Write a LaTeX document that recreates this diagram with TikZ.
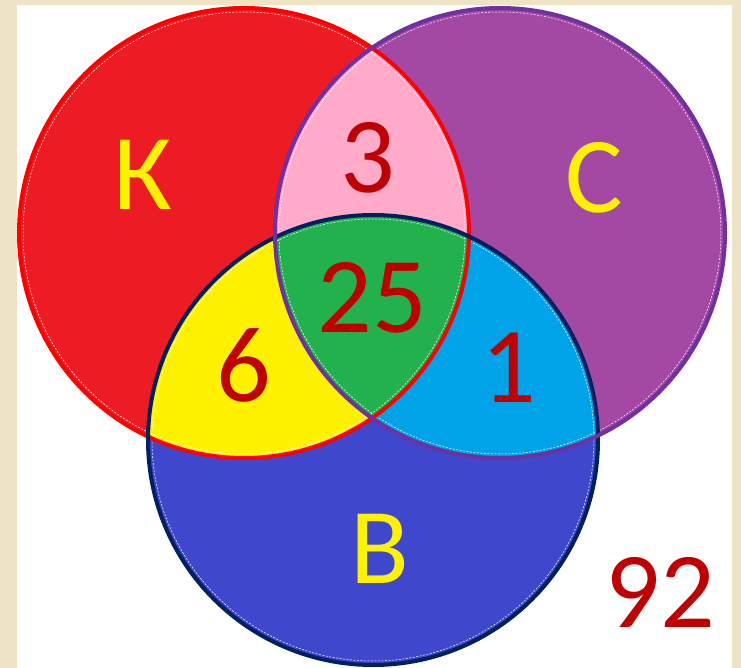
\documentclass[tikz,border=0pt]{standalone}
\usepackage{fontspec}
\setmainfont{Carlito}
\definecolor{paperBeige}{HTML}{EFE3C6}
\definecolor{fillK}{HTML}{ED1C24}
\definecolor{fillC}{HTML}{A349A4}
\definecolor{fillB}{HTML}{3F48CC}
\definecolor{fillKC}{HTML}{FFAAC9}
\definecolor{fillKB}{HTML}{FFF200}
\definecolor{fillCB}{HTML}{00A2E8}
\definecolor{fillKCB}{HTML}{22B14C}
\definecolor{lineK}{HTML}{FF0000}
\definecolor{lineC}{HTML}{7030A0}
\definecolor{lineB}{HTML}{002060}
\definecolor{numRed}{HTML}{C00000}

\begin{document}
\begin{tikzpicture}[x=1pt,y=-1pt,
    bigtext/.style={inner sep=0pt, font=\fontsize{108}{120}\selectfont},
    setname/.style={bigtext, text=yellow},
    setcount/.style={bigtext, text=numRed},
    rim/.style={line width=4pt},
    seam/.style={white, line width=0.5pt, dash pattern=on 2pt off 1.5pt}]
    \fill[paperBeige] (0,0) rectangle (741,668);
    \fill[white] (17,5) rectangle (732,668);
    \coordinate (K) at (244,233);
    \coordinate (C) at (500,233);
    \coordinate (B) at (373,440);
    \def\rad{225pt}
    % single sets
    \fill[fillK] (K) circle[radius=\rad];
    \fill[fillC] (C) circle[radius=\rad];
    \fill[fillB] (B) circle[radius=\rad];
    % overlaps
    \begin{scope}
        \clip (K) circle[radius=\rad];
        \fill[fillKC] (C) circle[radius=\rad];
        \fill[fillKB] (B) circle[radius=\rad];
        \clip (C) circle[radius=\rad];
        \fill[fillKCB] (B) circle[radius=\rad];
    \end{scope}
    \begin{scope}
        \clip (C) circle[radius=\rad];
        \clip (B) circle[radius=\rad];
        \fill[fillCB] (B) circle[radius=\rad];
        \clip (K) circle[radius=\rad];
        \fill[fillKCB] (B) circle[radius=\rad];
    \end{scope}
    \draw[seam] (K) circle[radius=221pt];
    \draw[seam] (C) circle[radius=221pt];
    \draw[seam] (B) circle[radius=221pt];
    \draw[rim, lineK] (K) circle[radius=\rad];
    \draw[rim, lineB] (B) circle[radius=\rad];
    \draw[rim, lineC] (C) circle[radius=\rad];
    % labels
    \node[setname] (nameK) at (143,175) {К};
    \node[setname] (nameC) at (594,178) {С};
    \node[setname] (nameB) at (380,549) {В};
    \node[setcount] (numKC) at (368,158) {3};
    \node[setcount] (numKCB) at (372,298) {25};
    \node[setcount] (numKB) at (244,365) {6};
    \node[setcount] (numCB) at (509,368) {1};
    \node[setcount] (numNone) at (660,592) {92};
\end{tikzpicture}
\end{document}
